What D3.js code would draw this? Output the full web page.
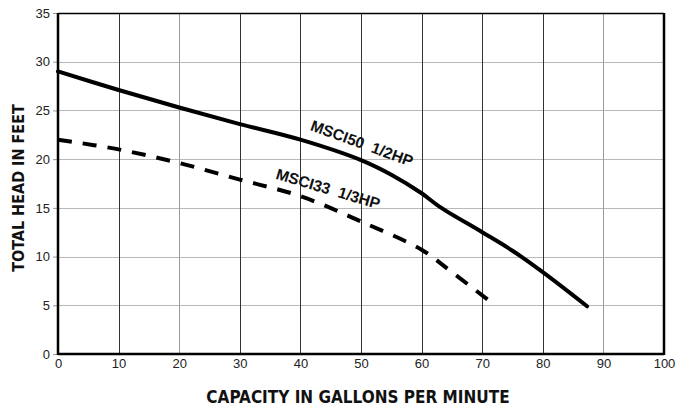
<!DOCTYPE html>
<html lang="en">
<head>
<meta charset="utf-8">
<title>Pump curves</title>
<script src="https://d3js.org/d3.v7.min.js"></script>
<style>
  body { margin: 0; background: #fff; }
  .tick text { font-family: "Liberation Sans", Arial, sans-serif; font-size: 13px; fill: #222; }
  .axis-title { font-family: "DejaVu Sans Condensed", "Liberation Sans Narrow", sans-serif; font-weight: bold; font-size: 17px; fill: #111; }
  .curve-label { font-family: "Liberation Sans", Arial, sans-serif; font-weight: bold; font-size: 15.5px; fill: #111; }
</style>
</head>
<body>
<div id="chart"></div>
<script>
// flow (GPM) vs total head (ft)
var msci50Flow = [0, 10, 20, 30, 40, 50, 55, 60, 63, 70, 75, 80, 87.3];
var msci50Head = [29, 27.1, 25.3, 23.6, 22.0, 19.9, 18.4, 16.5, 15.1, 12.5, 10.6, 8.4, 4.9];
var msci33Flow = [0, 10, 20, 30, 40, 50, 60, 65, 71.3];
var msci33Head = [22, 21.0, 19.6, 17.9, 16.2, 13.6, 10.7, 8.4, 5.4];
var xTicks = [0, 10, 20, 30, 40, 50, 60, 70, 80, 90, 100];
var yTicks = [0, 5, 10, 15, 20, 25, 30, 35];

var margin = {top: 13, right: 25, bottom: 53, left: 58},
    width = 689 - margin.left - margin.right,
    height = 407 - margin.top - margin.bottom;

var x = d3.scaleLinear().domain([0, 100]).range([0, width]);
var y = d3.scaleLinear().domain([0, 35]).range([height, 0]);

var svg = d3.select("#chart").append("svg")
    .attr("width", 689).attr("height", 407)
  .append("g")
    .attr("transform", "translate(" + margin.left + "," + margin.top + ")");

// grid
svg.selectAll(".hgrid").data(yTicks.slice(1, -1)).enter().append("line")
    .attr("x1", 0).attr("x2", width)
    .attr("y1", function(d) { return Math.round(y(d)) + 0.5; })
    .attr("y2", function(d) { return Math.round(y(d)) + 0.5; })
    .attr("stroke", "#b8b8b8").attr("stroke-width", 1);

svg.selectAll(".vgrid").data(xTicks.slice(1, -1)).enter().append("line")
    .attr("y1", 0).attr("y2", height)
    .attr("x1", function(d) { return Math.round(x(d)) + 0.5; })
    .attr("x2", function(d) { return Math.round(x(d)) + 0.5; })
    .attr("stroke", function(d) { return (d === 20 || d === 90) ? "#999" : "#333"; })
    .attr("stroke-width", 1);

// axes
svg.append("g")
    .attr("transform", "translate(0," + height + ")")
    .call(d3.axisBottom(x).tickValues(xTicks).tickSize(0).tickPadding(5))
    .call(function(g) { g.select(".domain").remove(); });

svg.append("g")
    .call(d3.axisLeft(y).tickValues(yTicks).tickSize(5).tickPadding(3))
    .call(function(g) {
      g.select(".domain").remove();
      g.selectAll(".tick line").attr("stroke", "#999");
    });

// frame
svg.append("line").attr("x1", 0).attr("x2", width).attr("y1", 0.5).attr("y2", 0.5)
    .attr("stroke", "#000").attr("stroke-width", 1.5);
svg.append("line").attr("x1", 0).attr("x2", width).attr("y1", height).attr("y2", height)
    .attr("stroke", "#000").attr("stroke-width", 2.5);
svg.append("line").attr("x1", 0).attr("x2", 0).attr("y1", 0).attr("y2", height + 1)
    .attr("stroke", "#000").attr("stroke-width", 2.5);
svg.append("line").attr("x1", width).attr("x2", width).attr("y1", 0).attr("y2", height + 1)
    .attr("stroke", "#000").attr("stroke-width", 2.5);

var line = d3.line()
    .x(function(d) { return x(d[0]); })
    .y(function(d) { return y(d[1]); })
    .curve(d3.curveCatmullRom.alpha(0.5));

svg.append("path")
    .datum(d3.zip(msci50Flow, msci50Head))
    .attr("d", line)
    .attr("fill", "none").attr("stroke", "#000").attr("stroke-width", 4)
    .attr("stroke-linecap", "round");

svg.append("path")
    .datum(d3.zip(msci33Flow, msci33Head))
    .attr("d", line)
    .attr("fill", "none").attr("stroke", "#000").attr("stroke-width", 4)
    .attr("stroke-dasharray", "14 11").attr("stroke-linecap", "butt");

// curve labels
svg.append("text").attr("class", "curve-label")
    .attr("transform", "translate(" + x(41.5) + "," + y(23.0) + ") rotate(20)")
    .attr("xml:space", "preserve")
    .text("MSCI50  1/2HP");
svg.append("text").attr("class", "curve-label")
    .attr("transform", "translate(" + x(35.8) + "," + y(18.0) + ") rotate(16.5)")
    .attr("xml:space", "preserve")
    .text("MSCI33  1/3HP");

// axis titles
svg.append("text").attr("class", "axis-title")
    .attr("text-anchor", "middle")
    .attr("x", 358 - margin.left).attr("y", 403 - margin.top)
    .text("CAPACITY IN GALLONS PER MINUTE");
svg.append("text").attr("class", "axis-title")
    .attr("text-anchor", "middle")
    .style("font-size", "16px")
    .attr("transform", "translate(" + (24 - margin.left) + "," + (188 - margin.top) + ") rotate(-90)")
    .text("TOTAL HEAD IN FEET");
</script>
</body>
</html>
